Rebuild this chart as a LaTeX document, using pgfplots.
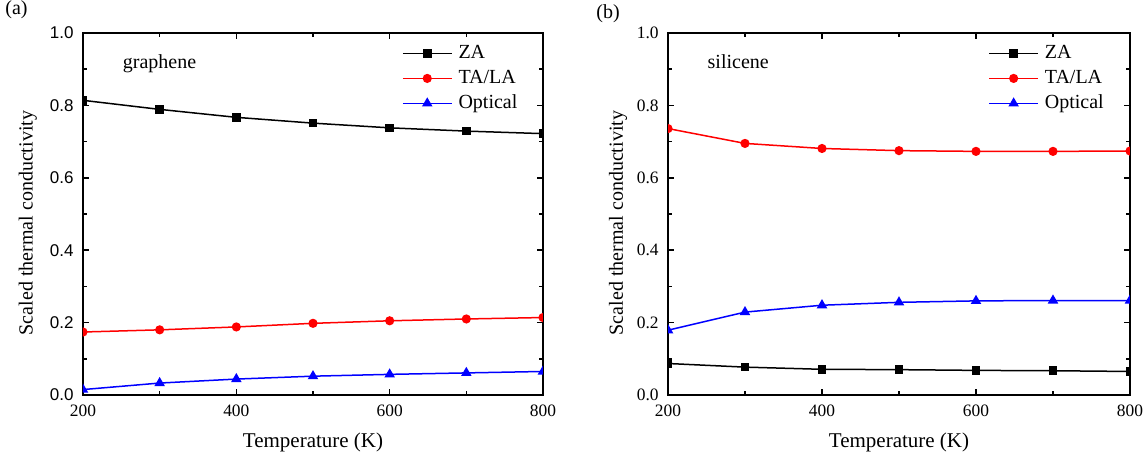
\documentclass[border=0pt]{standalone}
\usepackage{fontspec}
\setmainfont{Liberation Serif}
\newfontfamily\arialfont{Liberation Sans}
\usepackage{pgfplots}
\pgfplotsset{compat=1.18}

\definecolor{zaBlack}{RGB}{0,0,0}
\definecolor{laRed}{RGB}{255,0,0}
\definecolor{opBlue}{RGB}{0,0,255}

% common look of both panels
\pgfplotsset{
  panel/.style={
    scale only axis, height=181pt,
    xmin=200, xmax=800, ymin=0, ymax=1,
    xtick={200,400,600,800}, minor xtick={300,500,700},
    ytick={0,0.2,0.4,0.6,0.8,1.0}, minor ytick={0.1,0.3,0.5,0.7,0.9},
    tick align=inside,
    clip marker paths=true,
    axis line style={line width=1pt},
    major tick length=3pt, minor tick length=2.2pt,
    every tick/.style={black, line width=0.8pt},
    /pgf/number format/assume math mode=true,
    yticklabel style={/pgf/number format/fixed,
      /pgf/number format/fixed zerofill,
      /pgf/number format/precision=1,
      anchor=east, inner sep=0pt, xshift=-4.5pt},
    xticklabel style={anchor=base, inner sep=0pt, yshift=-11pt,
      font=\fontsize{8.7}{10}\selectfont},
    xlabel={Temperature (K)},
    ylabel={Scaled thermal conductivity},
    xlabel style={at={(axis description cs:0.5,0)}, anchor=base,
      yshift=-26.5pt, font=\fontsize{10.5}{12}\selectfont},
    legend cell align=left,
    legend image code/.code={%
      \draw[mark repeat=2, mark phase=2, ##1]
        plot coordinates {(0pt,0pt) (12.25pt,0pt) (24.5pt,0pt)};},
    legend style={draw=none, fill=none, inner sep=0pt, outer sep=0pt,
      at={(axis description cs:0.6935,0.974)}, anchor=north west,
      row sep=1.5pt, column sep=2pt,
      nodes={inner sep=1pt, text height=7pt, text depth=2pt,
        font=\fontsize{10}{12}\selectfont}},
  },
  za/.style={zaBlack, line width=0.75pt, mark=square*, mark size=1.75pt},
  la/.style={laRed, line width=0.75pt, mark=*, mark size=1.9pt},
  op/.style={opBlue, line width=0.75pt, mark=triangle*, mark size=2.3pt},
}

\begin{document}
\begin{tikzpicture}
\useasboundingbox (0,0) rectangle (574pt,230.5pt);

\node[anchor=base west, inner sep=0pt, font=\fontsize{10}{11}\selectfont]
  at (2.5pt,223pt) {(a)};
\node[anchor=base west, inner sep=0pt, font=\fontsize{10}{11}\selectfont]
  at (298pt,221pt) {(b)};

% (a) graphene
\begin{axis}[panel, width=230pt,
  at={(41.5pt,33pt)}, anchor=south west,
  yticklabel style={font=\arialfont\fontsize{8.5}{10}\selectfont},
  ylabel style={at={(axis description cs:-0.12,0.475)}, anchor=center,
    font=\fontsize{10}{12}\selectfont},
]
\addplot[za] coordinates {(200,0.814) (300,0.789) (400,0.767) (500,0.751) (600,0.738) (700,0.729) (800,0.722)};
\addplot[la] coordinates {(200,0.174) (300,0.180) (400,0.188) (500,0.198) (600,0.205) (700,0.210) (800,0.214)};
\addplot[op] coordinates {(200,0.015) (300,0.033) (400,0.044) (500,0.052) (600,0.057) (700,0.061) (800,0.065)};
\legend{ZA, TA/LA, Optical}
\node[anchor=base west, inner sep=0pt, font=\fontsize{10}{12}\selectfont]
  at (axis description cs:0.086,0.901) {graphene};
\end{axis}

% (b) silicene
\begin{axis}[panel, width=231pt,
  at={(334pt,33pt)}, anchor=south west,
  yticklabel style={font=\fontsize{8.7}{10}\selectfont},
  ylabel style={at={(axis description cs:-0.108,0.475)}, anchor=center,
    font=\fontsize{10}{12}\selectfont},
]
\addplot[za] coordinates {(200,0.087) (300,0.077) (400,0.071) (500,0.070) (600,0.068) (700,0.067) (800,0.065)};
\addplot[la] coordinates {(200,0.736) (300,0.695) (400,0.681) (500,0.675) (600,0.673) (700,0.673) (800,0.674)};
\addplot[op] coordinates {(200,0.179) (300,0.229) (400,0.248) (500,0.256) (600,0.260) (700,0.261) (800,0.261)};
\legend{ZA, TA/LA, Optical}
\node[anchor=base west, inner sep=0pt, font=\fontsize{10}{12}\selectfont]
  at (axis description cs:0.085,0.901) {silicene};
\end{axis}
\end{tikzpicture}
\end{document}
